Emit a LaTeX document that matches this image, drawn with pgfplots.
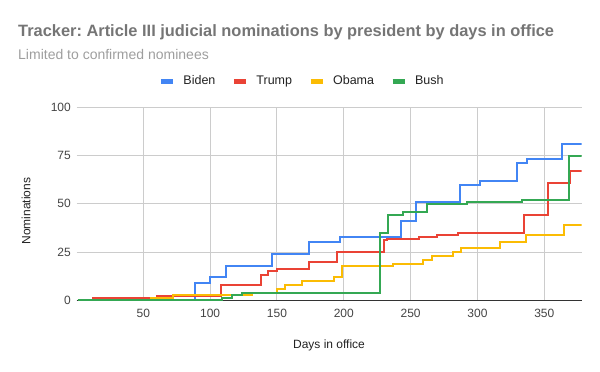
\documentclass[border=0pt]{standalone}
\usepackage{pgfplots}
\pgfplotsset{compat=1.18}
\usepackage{fontspec}
\setmainfont{Liberation Sans}
\frenchspacing
\definecolor{cBiden}{HTML}{4285F4}
\definecolor{cTrump}{HTML}{EA4335}
\definecolor{cObama}{HTML}{FBBC04}
\definecolor{cBush}{HTML}{34A853}
\definecolor{cTitle}{HTML}{757575}
\definecolor{cSub}{HTML}{9E9E9E}
\definecolor{cTick}{HTML}{444444}
\definecolor{cLab}{HTML}{222222}
\definecolor{cGrid}{HTML}{CCCCCC}
\definecolor{cAxis}{HTML}{333333}
\begin{document}
\begin{tikzpicture}[x=1bp,y=1bp]
\path[use as bounding box] (0,0) rectangle (600,371);
\begin{axis}[
  at={(76.5bp,70.7bp)}, anchor=south west,
  width=505.2bp, height=193bp, scale only axis,
  xmin=0, xmax=378, ymin=0, ymax=100,
  xtick={50,100,...,350}, ytick={0,25,...,100},
  xmajorgrids, ymajorgrids,
  grid style={cGrid, line width=1bp},
  axis x line*=bottom, axis y line*=left,
  x axis line style={cAxis, line width=1.2bp, -},
  y axis line style={draw=none},
  major tick length=0pt,
  tick label style={font=\fontsize{12bp}{14bp}\selectfont, text=cTick},
  /pgf/number format/assume math mode=true,
  xticklabel style={anchor=base, yshift=-16.7bp, inner sep=0pt},
  yticklabel style={anchor=east, xshift=-5.5bp, inner sep=0pt},
  legend columns=4,
  legend style={at={(axis description cs:0.4444,1.136)}, anchor=center,
    draw=none, fill=none, font=\fontsize{12.5bp}{15bp}\selectfont, text=cLab,
    nodes={inner sep=0pt},
    /tikz/every odd column/.append style={column sep=8bp},
    /tikz/every even column/.append style={column sep=16bp}},
  legend image code/.code={\draw[#1, line width=5bp] (0bp,0bp) -- (12bp,0bp);},
  every axis plot/.append style={const plot, line width=2bp, no markers},
]
\addplot[cBiden] coordinates {(1,0)(89,9)(100,12)(112,18)(146,24)(174,30)(197,33)(243,41)(254,51)(287,60)(302,62)(329.5,71)(337,73)(363.5,81)(378,81)};
\addlegendentry{Biden}
\addplot[cTrump] coordinates {(1,0)(12,1)(60,2)(108,8)(138,13)(143,15)(150,16)(174,20)(195,25)(230,31)(232,32)(256.6,33)(269.6,34)(285.5,35)(334.5,44)(353,61)(369.5,67)(378,67)};
\addlegendentry{Trump}
\addplot[cObama] coordinates {(1,0)(56,1)(72,3)(131,4)(150,6)(156,8)(169,10)(192.5,12)(198.5,18)(237,19)(259,21)(266,23)(282,25)(288,27)(317,30)(336,34)(365,39)(378,39)};
\addlegendentry{Obama}
\addplot[cBush] coordinates {(1,0)(109,1)(116.6,3)(123.6,4)(227,35)(233,44)(244,46)(262.5,50)(292.5,51)(333.5,52)(368.5,75)(378,75)};
\addlegendentry{Bush}
\end{axis}
\node[anchor=base west, inner sep=0pt, text=cTitle, font=\bfseries\fontsize{16.4bp}{20bp}\selectfont] at (18,335) {Tracker: Article III judicial nominations by president by days in office};
\node[anchor=base west, inner sep=0pt, text=cSub, font=\fontsize{14bp}{17bp}\selectfont] at (18,312) {Limited to confirmed nominees};
\node[anchor=base, inner sep=0pt, text=cLab, font=\fontsize{12bp}{14bp}\selectfont] at (329,22.5) {Days in office};
\node[rotate=90, anchor=base, inner sep=0pt, text=cLab, font=\fontsize{12bp}{14bp}\selectfont] at (30.3,160) {Nominations};
\end{tikzpicture}
\end{document}
